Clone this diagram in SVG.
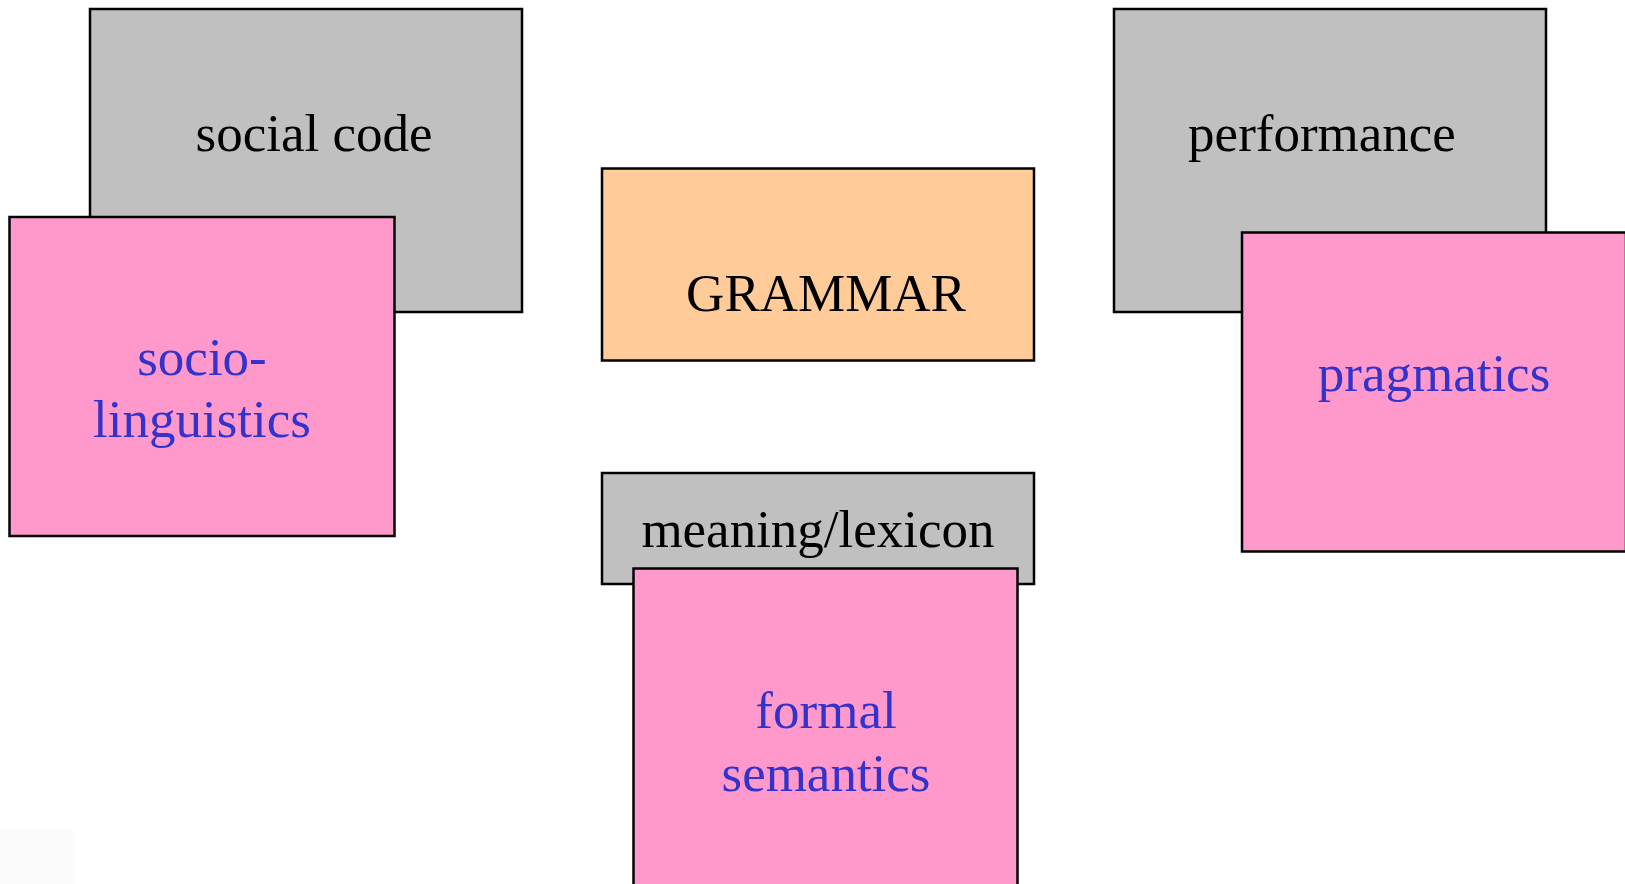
<svg xmlns="http://www.w3.org/2000/svg" width="1625" height="884" viewBox="0 0 1625 884">
<style>
rect.box{stroke:#000;stroke-width:2.5}
.gray{fill:#c0c0c0}
.pink{fill:#ff99cc}
.orange{fill:#ffcc99}
text{font-family:"Liberation Serif","Times New Roman",serif;font-size:53px;text-anchor:middle}
.dark{fill:#000}
.blue{fill:#3333cc}
</style>
<rect x="0" y="829" width="73" height="55" fill="#fbfbfb"/>
<g id="connectors"></g>
<g id="social-code">
<rect class="box gray" x="90" y="9" width="432" height="303"/>
<text class="dark" x="314" y="151">social code</text>
</g>
<g id="sociolinguistics">
<rect class="box pink" x="9.5" y="217" width="385" height="319"/>
<text class="blue" x="202" y="375">socio-</text>
<text class="blue" x="202" y="437">linguistics</text>
</g>
<g id="grammar">
<rect class="box orange" x="602" y="168.5" width="432" height="192"/>
<text class="dark" x="826" y="311">GRAMMAR</text>
</g>
<g id="performance">
<rect class="box gray" x="1114" y="9" width="432" height="303"/>
<text class="dark" x="1322" y="151">performance</text>
</g>
<g id="pragmatics">
<rect class="box pink" x="1242" y="232.5" width="384" height="319"/>
<text class="blue" x="1434" y="391">pragmatics</text>
</g>
<g id="meaning-lexicon">
<rect class="box gray" x="602" y="473" width="432" height="111"/>
<text class="dark" x="818" y="547">meaning/lexicon</text>
</g>
<g id="formal-semantics">
<rect class="box pink" x="633.5" y="568.5" width="384" height="330"/>
<text class="blue" x="826" y="727.5">formal</text>
<text class="blue" x="826" y="791">semantics</text>
</g>
</svg>
